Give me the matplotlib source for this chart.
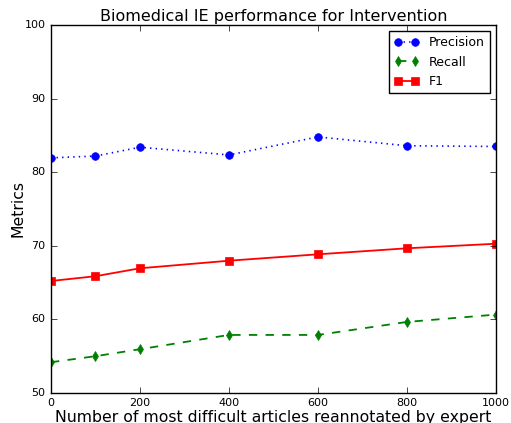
import matplotlib
matplotlib.use("Agg")
import matplotlib.pyplot as plt

x = [0, 100, 200, 400, 600, 800, 1000]
precision = [81.95, 82.2, 83.4, 82.35, 84.8, 83.6, 83.5]
recall = [54.15, 54.97, 55.92, 57.86, 57.86, 59.63, 60.63]
f1 = [65.2, 65.85, 66.93, 67.96, 68.83, 69.65, 70.27]

plt.style.use('classic')
fig = plt.figure(figsize=(5.11, 4.23), dpi=100, facecolor='white')
ax = fig.add_axes([0.0998, 0.0716, 0.8708, 0.8688])
ax.plot(x, precision, 'o:', color='blue', label='Precision', markersize=5.5, markeredgecolor='blue', lw=1.2)
ax.plot(x, recall, 'd--', color='green', label='Recall', markersize=5.5, markeredgecolor='green', lw=1.3)
ax.plot(x, f1, 's-', color='red', label='F1', markersize=5.5, markeredgecolor='red', lw=1.3)
ax.set_xlim(0, 1000)
ax.set_ylim(50, 100)
ax.tick_params(labelsize=8)
ax.set_xlabel('Number of most difficult articles reannotated by expert', fontsize=11.3, labelpad=1)
ax.set_ylabel('Metrics', fontsize=11.3)
ax.yaxis.set_label_coords(-0.0584, 0.5)
ax.set_title('Biomedical IE performance for Intervention', fontsize=11.5, pad=3)
ax.legend(loc='upper right', fontsize=9, numpoints=2)
fig.savefig('out.png', dpi=100, facecolor='white')
